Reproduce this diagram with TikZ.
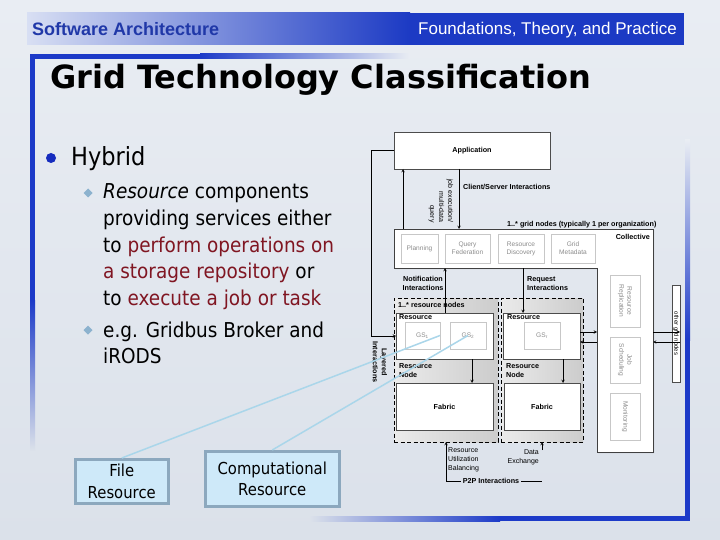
\documentclass[tikz,border=0pt]{standalone}
\usepackage{fontspec}
\setmainfont{Liberation Sans}
\newfontfamily\tahoma[FakeStretch=0.9]{DejaVu Sans}
\newfontfamily\verdana{DejaVu Sans}
\usepackage{xcolor}
\usepackage{tikz}
\usetikzlibrary{shadows}

\definecolor{bgtop}{RGB}{233,237,243}
\definecolor{bgbot}{RGB}{219,225,234}
\definecolor{hdrblue}{RGB}{28,58,196}
\definecolor{hdrlight}{RGB}{216,223,243}
\definecolor{frameblue}{RGB}{28,58,200}
\definecolor{satext}{RGB}{32,56,168}
\definecolor{dotblue}{RGB}{22,44,190}
\definecolor{diamblue}{RGB}{140,178,206}
\definecolor{textred}{RGB}{128,22,34}
\definecolor{calloutfill}{RGB}{206,233,249}
\definecolor{calloutline}{RGB}{140,168,190}
\definecolor{leadline}{RGB}{170,214,234}

\tikzset{
  dbox/.style={draw=black!70, fill=white, line width=0.5pt, inner sep=0pt, outer sep=0pt,
    drop shadow={opacity=0.45, shadow xshift=1.2pt, shadow yshift=-1.2pt}},
  subbox/.style={draw=black!22, fill=white, line width=0.4pt, inner sep=0pt, outer sep=0pt,
    text=black!45, align=center, font=\fontsize{6.6}{8}\selectfont},
  grpbox/.style={draw=black, dash pattern=on 4pt off 2.5pt, line width=0.7pt, inner sep=0pt,
    outer sep=0pt, left color=black!8, right color=black!20},
  dlabel/.style={inner sep=0pt, font=\fontsize{7.2}{9}\selectfont\bfseries},
  dtext/.style={inner sep=0pt, font=\fontsize{7}{9}\selectfont},
  subtxt/.style={anchor=base west, inner sep=0pt, font=\tahoma\fontsize{20.5}{24}\selectfont},
  callout/.style={draw=calloutline, line width=2.5pt, fill=calloutfill, inner sep=0pt,
    align=center, font=\tahoma\fontsize{16.5}{21.5}\selectfont},
  lead/.style={draw=leadline, line width=1.5pt},
  arr/.style={->, line width=0.5pt}
}

\begin{document}
\begin{tikzpicture}[>=stealth, x=1pt, y=-1pt]

    % =================================================================
    % 1. SLIDE BACKGROUND, HEADER BAR AND FRAME
    % =================================================================
    \useasboundingbox (0,0) rectangle (720,540);
    \shade[top color=bgtop, bottom color=bgbot] (0,0) rectangle (720,540);

    % header bar
    \shade[left color=hdrlight, right color=hdrblue] (27,13) rectangle (410,45);
    \fill[hdrblue] (410,13) rectangle (684,45);
    \node[anchor=base west, inner sep=0pt, text=satext, font=\fontsize{18}{20}\selectfont\bfseries]
        (course) at (32,36) {Software Architecture};
    \node[anchor=base east, inner sep=0pt, text=white, font=\fontsize{17}{20}\selectfont]
        (book) at (677,35) {Foundations, Theory, and Practice};

    % frame of the title (top left)
    \fill[frameblue] (30,54) rectangle (200,59);
    \shade[left color=frameblue, right color=bgtop] (200,54) rectangle (410,59);
    \fill[frameblue] (30,54) rectangle (35,300);
    \shade[top color=frameblue, bottom color=bgbot] (30,300) rectangle (35,450);

    % frame (bottom right)
    \shade[top color=bgtop, bottom color=frameblue] (685,140) rectangle (690,340);
    \fill[frameblue] (685,340) rectangle (690,521);
    \shade[left color=bgbot, right color=frameblue] (310,516) rectangle (500,521);
    \fill[frameblue] (500,516) rectangle (690,521);

    % title
    \node[anchor=base west, inner sep=0pt, font=\verdana\bfseries\fontsize{32}{36}\selectfont]
        (title) at (50,89) {Grid Technology Classification};

    % =================================================================
    % 2. BULLET TEXT
    % =================================================================
    \fill[dotblue] (51,158) circle (5);
    \node[anchor=base west, inner sep=0pt, font=\tahoma\fontsize{25}{30}\selectfont]
        (hybrid) at (71,166) {Hybrid};

    \fill[diamblue] (88,188.5) -- (92.5,193) -- (88,197.5) -- (83.5,193) -- cycle;
    \node[subtxt] at (103,199) {\textit{Resource} components};
    \node[subtxt] at (103,225.5) {providing services either};
    \node[subtxt] at (103,252) {to \textcolor{textred}{perform operations on}};
    \node[subtxt] at (103,278.5) {\textcolor{textred}{a storage repository} or};
    \node[subtxt] at (103,305) {to \textcolor{textred}{execute a job or task}};

    \fill[diamblue] (88,325.5) -- (92.5,330) -- (88,334.5) -- (83.5,330) -- cycle;
    \node[subtxt] at (103,337) {e.g. Gridbus Broker and};
    \node[subtxt] at (103,363) {iRODS};

    % =================================================================
    % 3. GRID DIAGRAM: APPLICATION AND COLLECTIVE LAYER
    % =================================================================
    \node[dbox, anchor=north west, minimum width=156pt, minimum height=37pt,
        font=\fontsize{7.2}{9}\selectfont\bfseries] (app) at (394,132) {Application};

    % collective layer (L shape)
    \draw[line width=0.6pt, draw=black!75, fill=white,
        drop shadow={opacity=0.45, shadow xshift=1.2pt, shadow yshift=-1.2pt}]
        (394,229) -- (653,229) -- (653,452) -- (597,452) -- (597,268) -- (394,268) -- cycle;
    \node[anchor=north west, minimum width=259pt, minimum height=39pt, inner sep=0pt,
        outer sep=0pt] (coll) at (394,229) {};
    \node[anchor=north west, minimum width=56pt, minimum height=184pt, inner sep=0pt,
        outer sep=0pt] (collcol) at (597,268) {};
    \node[dlabel, anchor=north east] (colllbl) at (650,234) {Collective};

    \node[subbox, anchor=north west, minimum width=37pt, minimum height=29pt] (plan) at (401,234) {Planning};
    \node[subbox, anchor=north west, minimum width=45pt, minimum height=29pt] (qfed) at (445,234) {Query\\Federation};
    \node[subbox, anchor=north west, minimum width=46pt, minimum height=29pt] (rdisc) at (498,234) {Resource\\Discovery};
    \node[subbox, anchor=north west, minimum width=44pt, minimum height=29pt] (gmeta) at (551,234) {Grid\\Metadata};

    \node[subbox, rotate=-90, minimum width=52pt, minimum height=30pt] (repl) at (625,301) {Resource\\Replication};
    \node[subbox, rotate=-90, minimum width=46pt, minimum height=30pt] (jobs) at (625,360) {Job\\Scheduling};
    \node[subbox, rotate=-90, minimum width=47pt, minimum height=30pt] (mon) at (625,416.5) {Monitoring};

    % other grid nodes
    \node[dbox, rotate=-90, minimum width=97pt, minimum height=8pt,
        font=\fontsize{6}{7}\selectfont] (other) at (676,333.5) {other grid nodes};

    % =================================================================
    % 4. GRID DIAGRAM: RESOURCE NODES AND FABRIC
    % =================================================================
    \node[grpbox, anchor=north west, minimum width=104pt, minimum height=144pt] (grpL) at (394,298) {};
    \node[grpbox, anchor=north west, minimum width=82pt, minimum height=144pt] (grpR) at (501,298) {};
    \node[dlabel, anchor=west] (nodeslbl) at (398,305) {1..* resource nodes};

    \node[dbox, anchor=north west, minimum width=97pt, minimum height=46pt] (resL) at (396,313) {};
    \node[dbox, anchor=north west, minimum width=77pt, minimum height=46pt] (resR) at (503,313) {};
    \node[dbox, anchor=north west, minimum width=97pt, minimum height=47pt,
        font=\fontsize{7.2}{9}\selectfont\bfseries] (fabL) at (396,383) {Fabric};
    \node[dbox, anchor=north west, minimum width=76pt, minimum height=47pt,
        font=\fontsize{7.2}{9}\selectfont\bfseries] (fabR) at (504,383) {Fabric};

    \node[dlabel, anchor=north west] (resLlbl) at (399,314.5) {Resource};
    \node[dlabel, anchor=north west] (resRlbl) at (507,314.5) {Resource};
    \node[dlabel, anchor=north west, align=left] (nodeL) at (399,363) {Resource\\Node};
    \node[dlabel, anchor=north west, align=left] (nodeR) at (506,363) {Resource\\Node};

    \node[subbox, anchor=north west, minimum width=35pt, minimum height=27pt] (gs1) at (405,322) {GS\textsubscript{1}};
    \node[subbox, anchor=north west, minimum width=36pt, minimum height=27pt] (gs2) at (450,322) {GS\textsubscript{2}};
    \node[subbox, anchor=north west, minimum width=36pt, minimum height=27pt] (gsr) at (524,322) {GS\textsubscript{r}};

    % =================================================================
    % 5. INTERACTION ARROWS AND THEIR LABELS
    % =================================================================
    \draw[arr] (app.south -| 459,0) -- (coll.north -| 459,0);
    \draw[arr] (coll.north -| 403,0) -- (app.south -| 403,0);
    \node[dtext, rotate=-90, align=right] (jobquery) at (441,201) {job execution/\\multi-data\\query};
    \node[dlabel, anchor=west] (cslbl) at (463,187) {Client/Server Interactions};
    \node[dlabel, anchor=west] (gridlbl) at (507,225) {1..* grid nodes (typically 1 per organization)};

    \draw[arr] (app.west) -| (resL.west -| 371,0) -- (resL.west);
    \node[dlabel, rotate=-90, align=center] (layered) at (380,362) {Layered\\Interactions};

    \draw[arr] (resL.north -| 445,0) -- (coll.south -| 445,0);
    \node[dlabel, align=center] (notif) at (423,283.5) {Notification\\Interactions};
    \draw[arr] (coll.south -| 523,0) -- (resR.north -| 523,0);
    \node[dlabel, anchor=west, align=left] (request) at (527,283.5) {Request\\Interactions};

    \draw[arr] (resL.south -| 472,0) -- (fabL.north -| 472,0);
    \draw[arr] (resR.south -| 563,0) -- (fabR.north -| 563,0);

    \draw[arr] (resR.east |- 0,332) -- (collcol.west |- 0,332);
    \draw[arr] (collcol.west |- 0,342) -- (resR.east |- 0,342);
    \draw[arr] (collcol.east |- 0,332) -- (other.north |- 0,332);
    \draw[arr] (other.north |- 0,342) -- (collcol.east |- 0,342);

    % peer to peer
    \node[dlabel, inner xsep=2pt] (p2p) at (491,481) {P2P Interactions};
    \coordinate (p2pcorner) at (446,481);
    \coordinate (dstub) at (542,450);
    \draw[arr] (p2p.west) -- (p2pcorner) -- (grpL.south -| p2pcorner);
    \draw (p2p.east) -- (542,481);
    \draw[arr] (dstub) -- (grpR.south -| dstub);
    \node[dtext, anchor=north west, align=left] (balance) at (448,447) {Resource\\Utilization\\Balancing};
    \node[dtext, anchor=north east, align=right] (dexch) at (539,449) {Data\\Exchange};

    % =================================================================
    % 6. CALLOUT BOXES
    % =================================================================
    \node[callout, anchor=north west, minimum width=93pt, minimum height=44pt] (filer) at (74,458) {File\\Resource};
    \node[callout, anchor=north west, minimum width=134pt, minimum height=55pt] (compr) at (204,450) {Computational\\Resource};
    \draw[lead] (filer.north) -- (gs1.east);
    \draw[lead] (compr.north) -- (gs2.center);

\end{tikzpicture}
\end{document}
